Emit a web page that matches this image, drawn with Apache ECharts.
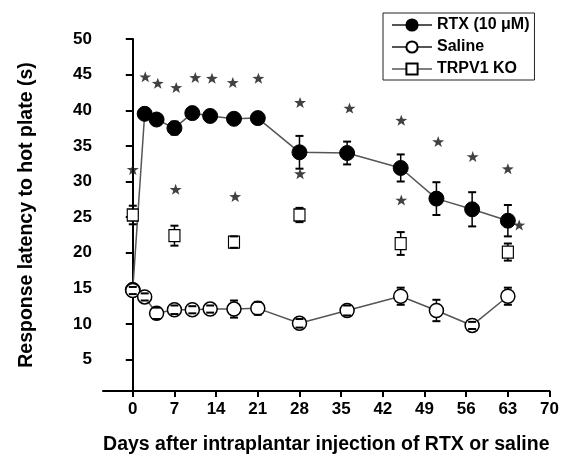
<!DOCTYPE html>
<html>
<head>
<meta charset="utf-8">
<script src="https://cdn.jsdelivr.net/npm/echarts@6/dist/echarts.min.js"></script>
<style>
  html, body { margin: 0; padding: 0; background: #fff; }
  #chart { width: 562px; height: 460px; }
</style>
</head>
<body>
<div id="chart"></div>
<script>
// days and values (mean, +/- error)
var rtxDays = [0, 2, 4, 7, 10, 13, 17, 21, 28, 36, 45, 51, 57, 63];
var rtxMean = [14.8, 39.5, 38.7, 37.5, 39.6, 39.2, 38.8, 38.9, 34.1, 34.0, 31.9, 27.6, 26.1, 24.5];
var rtxErr  = [0, 0.5, 0.6, 0.9, 0.4, 0.4, 0.4, 0.4, 2.3, 1.6, 1.9, 2.3, 2.4, 2.2];

var salDays = [0, 2, 4, 7, 10, 13, 17, 21, 28, 36, 45, 51, 57, 63];
var salMean = [14.7, 13.8, 11.5, 12.0, 12.0, 12.1, 12.1, 12.2, 10.1, 11.9, 13.9, 11.9, 9.8, 13.9];
var salErr  = [0.5, 0.5, 0.8, 0.6, 0.5, 0.5, 1.2, 0.9, 0.6, 0.7, 1.2, 1.5, 0.5, 1.2];

var koDays = [0, 7, 17, 28, 45, 63];
var koMean = [25.3, 22.4, 21.5, 25.3, 21.3, 20.1];
var koErr  = [1.3, 1.4, 0.8, 1.0, 1.6, 1.2];

// significance asterisks [day, y]
var starPts = [
  [2.1, 44.7], [4.2, 43.8], [7.3, 43.2], [10.5, 44.6], [13.3, 44.5], [16.8, 43.9], [21.1, 44.5],
  [28.1, 41.1], [36.4, 40.3], [45.1, 38.6], [51.3, 35.6], [57.1, 33.5], [63.0, 31.8],
  [0, 31.7], [7.2, 28.9], [17.2, 27.9], [28.1, 31.1], [45.1, 27.4], [64.9, 23.9]
];

var xTicks = [0, 7, 14, 21, 28, 35, 42, 49, 56, 63, 70];
var yTicks = [5, 10, 15, 20, 25, 30, 35, 40, 45, 50];

var FONT = "'Liberation Sans', Arial, sans-serif";
// five-armed asterisk
var STAR = 'path://M10 0 L12.35 6.76 L19.51 6.91 L13.80 11.24 L15.88 18.09 L10 14 L4.12 18.09 L6.20 11.24 L0.49 6.91 L7.65 6.76 Z';

function pairs(xs, ys) {
  return xs.map(function (d, i) { return [d, ys[i]]; });
}
function triples(xs, ys, es) {
  return xs.map(function (d, i) { return [d, ys[i], es[i]]; });
}

// error bars: stems drawn under markers, caps drawn over
function errRender(part) {
  return function (params, api) {
    var x = api.value(0), y = api.value(1), e = api.value(2);
    if (!e) return null;
    var top = api.coord([x, y + e]);
    var bot = api.coord([x, y - e]);
    var kids = [];
    if (part === 'stem') {
      kids.push({ type: 'line', shape: { x1: top[0], y1: top[1], x2: bot[0], y2: bot[1] },
        style: { stroke: '#000', lineWidth: 1.5 } });
    } else {
      kids.push({ type: 'line', shape: { x1: top[0] - 4, y1: top[1], x2: top[0] + 4, y2: top[1] },
        style: { stroke: '#000', lineWidth: 2 } });
      kids.push({ type: 'line', shape: { x1: bot[0] - 4, y1: bot[1], x2: bot[0] + 4, y2: bot[1] },
        style: { stroke: '#000', lineWidth: 2 } });
    }
    return { type: 'group', children: kids };
  };
}

var allErr = triples(rtxDays, rtxMean, rtxErr)
  .concat(triples(salDays, salMean, salErr))
  .concat(triples(koDays, koMean, koErr));

var myChart = echarts.init(document.getElementById('chart'));
var option = {
  animation: false,
  grid: { left: 103, right: 12, top: 39, bottom: 63 },
  legend: {
    orient: 'vertical',
    left: 383,
    top: 13,
    itemWidth: 40,
    itemHeight: 14,
    itemGap: 6,
    borderColor: '#222',
    borderWidth: 1,
    padding: [4, 5, 3, 8],
    textStyle: { fontSize: 16, fontWeight: 'bold', fontFamily: FONT, color: '#000' },
    data: [
      { name: 'RTX (10 μM)' },
      { name: 'Saline' },
      { name: 'TRPV1 KO', lineStyle: { opacity: 1, color: '#000', width: 1 } }
    ]
  },
  xAxis: {
    type: 'value',
    min: -5,
    max: 70,
    name: 'Days after intraplantar injection of RTX or saline',
    nameLocation: 'middle',
    nameGap: 44,
    nameTextStyle: { fontSize: 19.5, fontWeight: 'bold', fontFamily: FONT, color: '#000' },
    axisLine: { lineStyle: { color: '#000', width: 2 } },
    axisTick: { show: true, length: 6, lineStyle: { color: '#000', width: 2 }, customValues: xTicks },
    axisLabel: { customValues: xTicks, fontSize: 17, fontWeight: 'bold', fontFamily: FONT, color: '#000', margin: 10 },
    splitLine: { show: false }
  },
  yAxis: {
    type: 'value',
    min: 0.6,
    max: 50,
    name: 'Response latency to hot plate (s)',
    nameLocation: 'middle',
    nameGap: 66,
    nameTextStyle: { fontSize: 19.5, fontWeight: 'bold', fontFamily: FONT, color: '#000' },
    axisLine: { lineStyle: { color: '#000', width: 2 } },
    axisTick: { show: true, length: 7, lineStyle: { color: '#000', width: 2 }, customValues: yTicks },
    axisLabel: { customValues: yTicks, fontSize: 17, fontWeight: 'bold', fontFamily: FONT, color: '#000', margin: 11 },
    splitLine: { show: false }
  },
  series: [
    {
      type: 'custom',
      name: 'stems',
      z: 1,
      renderItem: errRender('stem'),
      data: allErr,
      silent: true
    },
    {
      type: 'line',
      name: 'RTX (10 μM)',
      z: 3,
      data: pairs(rtxDays, rtxMean),
      symbol: 'circle',
      symbolSize: 15,
      showSymbol: true,
      itemStyle: { color: '#000', borderColor: '#000', borderWidth: 1 },
      lineStyle: { color: '#555', width: 1.5 }
    },
    {
      type: 'line',
      name: 'Saline',
      z: 4,
      data: pairs(salDays, salMean),
      symbol: 'circle',
      symbolSize: 14,
      showSymbol: true,
      itemStyle: { color: '#fff', borderColor: '#000', borderWidth: 1.5 },
      lineStyle: { color: '#555', width: 1.5 }
    },
    {
      type: 'line',
      name: 'TRPV1 KO',
      z: 4,
      data: pairs(koDays, koMean),
      symbol: 'rect',
      symbolSize: [11, 12],
      showSymbol: true,
      itemStyle: { color: '#fff', borderColor: '#000', borderWidth: 1.2 },
      lineStyle: { opacity: 0, color: '#000', width: 1 }
    },
    {
      type: 'custom',
      name: 'caps',
      z: 5,
      renderItem: errRender('cap'),
      data: allErr,
      silent: true
    },
    {
      type: 'scatter',
      name: 'stars',
      z: 6,
      data: starPts,
      symbol: STAR,
      symbolSize: [12, 11],
      itemStyle: { color: '#111' },
      silent: true
    }
  ]
};
myChart.setOption(option);
</script>
</body>
</html>
